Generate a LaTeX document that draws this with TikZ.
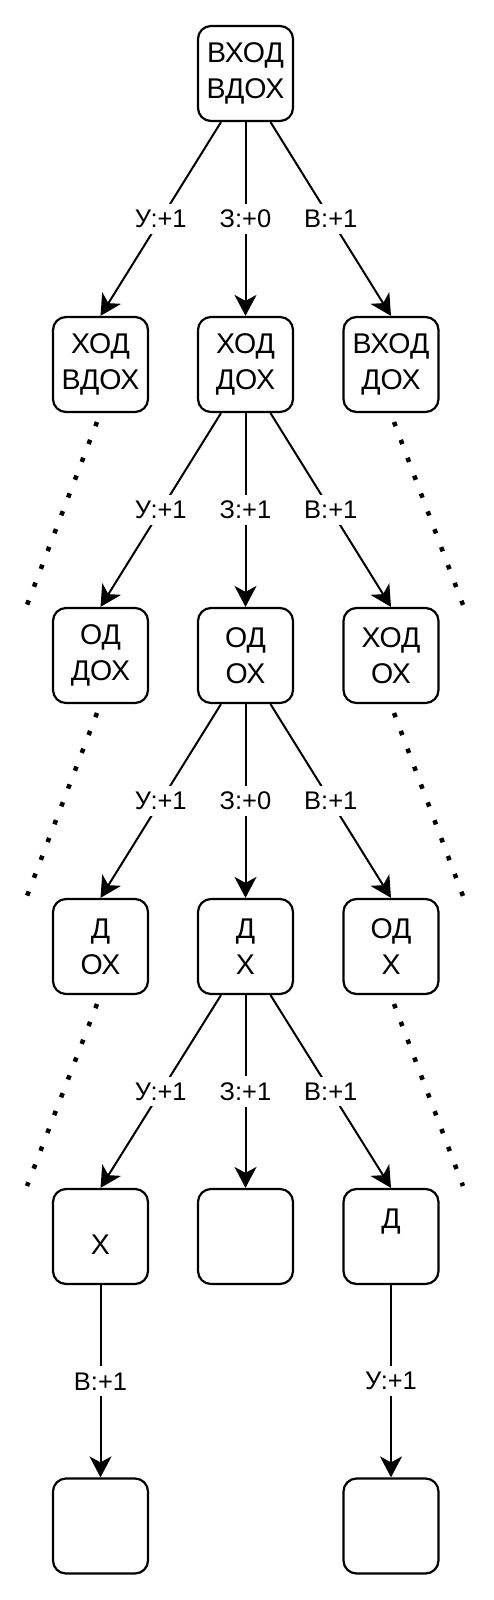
\documentclass[tikz,border=0pt]{standalone}
\usepackage{fontspec}
\setmainfont{Liberation Sans}
\usetikzlibrary{arrows.meta}
\begin{document}
\begin{tikzpicture}[x=1pt,y=-1pt,
 box/.style={draw, line width=2.2pt, rounded corners=13pt, minimum width=95pt, minimum height=95pt, inner sep=0pt, align=center, font=\fontsize{28.5}{35.7}\selectfont},
 edge/.style={line width=2pt, -{Stealth[length=21pt,width=22pt,inset=6pt]}},
 lab/.style={fill=white, inner xsep=3pt, inner ysep=6pt, font=\fontsize{25.5}{30}\selectfont},
 dots/.style={line width=4.5pt, dash pattern=on 4.5pt off 14.6pt}]
\useasboundingbox (0,0) rectangle (494,1600);
% level 0
\node[box] (a) at (245.5,73.5) {ВХОД\\ВДОХ};
% level 1
\node[box] (b1) at (100.5,364.5) {ХОД\\ВДОХ};
\node[box] (b2) at (245.5,364.5) {ХОД\\ДОХ};
\node[box] (b3) at (391,364.5) {ВХОД\\ДОХ};
% level 2
\node[box] (c1) at (100.5,655.5) {ОД\\ДОХ};
\node[box] (c2) at (245.5,655.5) {ОД\\ОХ};
\node[box] (c3) at (391,655.5) {ХОД\\ОХ};
% level 3
\node[box] (d1) at (100.5,946.5) {Д\\ОХ};
\node[box] (d2) at (245.5,946.5) {Д\\Х};
\node[box] (d3) at (391,946.5) {ОД\\Х};
% level 4
\node[box] (e1) at (100.5,1236.5) {\mbox{}\\Х};
\node[box] (e2) at (245.5,1236.5) {};
\node[box] (e3) at (391,1236.5) {Д\\\mbox{}};
% level 5
\node[box] (f1) at (100.5,1526) {};
\node[box] (f3) at (391,1526) {};
% edges
\draw[edge] ([xshift=-24.5pt]a.south) -- node[lab]{У:+1} (b1.north);
\draw[edge] (a.south) -- node[lab]{З:+0} (b2.north);
\draw[edge] ([xshift=25pt]a.south) -- node[lab]{В:+1} (b3.north);
\draw[edge] ([xshift=-24.5pt]b2.south) -- node[lab]{У:+1} (c1.north);
\draw[edge] (b2.south) -- node[lab]{З:+1} (c2.north);
\draw[edge] ([xshift=25pt]b2.south) -- node[lab]{В:+1} (c3.north);
\draw[edge] ([xshift=-24.5pt]c2.south) -- node[lab]{У:+1} (d1.north);
\draw[edge] (c2.south) -- node[lab]{З:+0} (d2.north);
\draw[edge] ([xshift=25pt]c2.south) -- node[lab]{В:+1} (d3.north);
\draw[edge] ([xshift=-24.5pt]d2.south) -- node[lab]{У:+1} (e1.north);
\draw[edge] (d2.south) -- node[lab]{З:+1} (e2.north);
\draw[edge] ([xshift=25pt]d2.south) -- node[lab]{В:+1} (e3.north);
\draw[edge] (e1.south) -- node[lab]{В:+1} (f1.north);
\draw[edge] (e3.south) -- node[lab]{У:+1} (f3.north);
% dotted continuations
\coordinate (p1s) at (97,422);   \coordinate (p1e) at (27,605);
\coordinate (q1s) at (394,422);  \coordinate (q1e) at (463,605);
\coordinate (p2s) at (97,713);   \coordinate (p2e) at (27,896);
\coordinate (q2s) at (394,713);  \coordinate (q2e) at (463,896);
\coordinate (p3s) at (97,1004);  \coordinate (p3e) at (27,1186);
\coordinate (q3s) at (394,1004); \coordinate (q3e) at (463,1186);
\draw[dots] (p1s) -- (p1e);
\draw[dots] (q1s) -- (q1e);
\draw[dots] (p2s) -- (p2e);
\draw[dots] (q2s) -- (q2e);
\draw[dots] (p3s) -- (p3e);
\draw[dots] (q3s) -- (q3e);
\end{tikzpicture}
\end{document}
